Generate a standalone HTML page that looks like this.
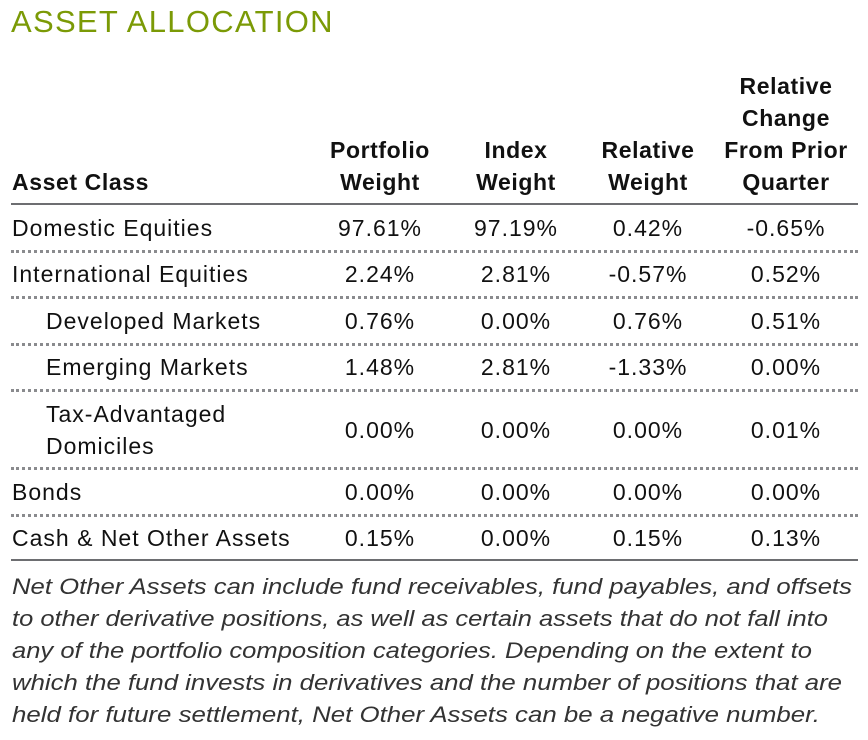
<!DOCTYPE html>
<html><head><meta charset="utf-8">
<style>
body{margin:0;width:868px;height:740px;background:#fff;position:relative;overflow:hidden;font-family:"Liberation Sans",sans-serif;color:#111;}
.a{position:absolute;white-space:nowrap;}
.t{font-size:31px;color:#7b9a06;left:11px;top:4px;letter-spacing:1.3px;}
.h{font-size:23px;font-weight:bold;text-align:center;line-height:32px;letter-spacing:0.6px;}
.c{font-size:23px;line-height:26px;letter-spacing:1px;}
.n{text-align:center;width:140px;}
.dot{position:absolute;left:11px;width:847px;height:0;border-top:3px dotted #8a8b8e;}
.solid{position:absolute;left:11px;width:847px;height:2px;background:#6d6e71;}
</style></head><body>
<div class="a t">ASSET ALLOCATION</div>

<div class="a h" style="left:12px;top:166px;text-align:left">Asset Class</div>
<div class="a h" style="left:310px;top:134px;width:140px">Portfolio<br>Weight</div>
<div class="a h" style="left:446px;top:134px;width:140px">Index<br>Weight</div>
<div class="a h" style="left:578px;top:134px;width:140px">Relative<br>Weight</div>
<div class="a h" style="left:706px;top:70px;width:160px">Relative<br>Change<br>From Prior<br>Quarter</div>
<div class="solid" style="top:203px"></div>

<div id="rows"></div>

<div class="solid" style="top:559px"></div>

<svg class="a" style="left:0;top:565px" width="868" height="175">
<g font-family="Liberation Sans, sans-serif" font-style="italic" font-size="22" fill="#333">
<text x="12" y="29" textLength="840" lengthAdjust="spacingAndGlyphs">Net Other Assets can include fund receivables, fund payables, and offsets</text>
<text x="12" y="61" textLength="816" lengthAdjust="spacingAndGlyphs">to other derivative positions, as well as certain assets that do not fall into</text>
<text x="12" y="93" textLength="800" lengthAdjust="spacingAndGlyphs">any of the portfolio composition categories. Depending on the extent to</text>
<text x="12" y="125" textLength="830" lengthAdjust="spacingAndGlyphs">which the fund invests in derivatives and the number of positions that are</text>
<text x="12" y="157" textLength="808" lengthAdjust="spacingAndGlyphs">held for future settlement, Net Other Assets can be a negative number.</text>
</g></svg>

<script>
const labels=["Domestic Equities","International Equities","Developed Markets","Emerging Markets","Tax-Advantaged<br>Domiciles","Bonds","Cash &amp; Net Other Assets"];
const indent=[0,0,1,1,1,0,0];
const portfolio=["97.61%","2.24%","0.76%","1.48%","0.00%","0.00%","0.15%"];
const index=["97.19%","2.81%","0.00%","2.81%","0.00%","0.00%","0.00%"];
const relative=["0.42%","-0.57%","0.76%","-1.33%","0.00%","0.00%","0.15%"];
const change=["-0.65%","0.52%","0.51%","0.00%","0.01%","0.00%","0.13%"];
const centers=[228,274,321,367,430,492,538];
const dividers=[250,296,343,389,467,514];
const cols=[[portfolio,310],[index,446],[relative,578],[change,716]];
const root=document.getElementById('rows');
labels.forEach((l,i)=>{
  const lines=l.includes('<br>')?2:1;
  const d=document.createElement('div');
  d.className='a c';
  d.style.left=(indent[i]?46:12)+'px';
  d.style.top=(lines>1?centers[i]-32:centers[i]-13)+'px';
  d.style.lineHeight=lines>1?'32px':'26px';
  d.innerHTML=l;
  
  
  root.appendChild(d);
  cols.forEach(([arr,x])=>{
    const c=document.createElement('div');
    c.className='a c n';
    c.style.left=x+'px';
    c.style.top=(centers[i]-13)+'px';
    c.textContent=arr[i];
    
    
    root.appendChild(c);
  });
});
dividers.forEach(y=>{
  const r=document.createElement('div');
  r.className='dot';
  r.style.top=y+'px';
  
  
  root.appendChild(r);
});
</script>
</body></html>
